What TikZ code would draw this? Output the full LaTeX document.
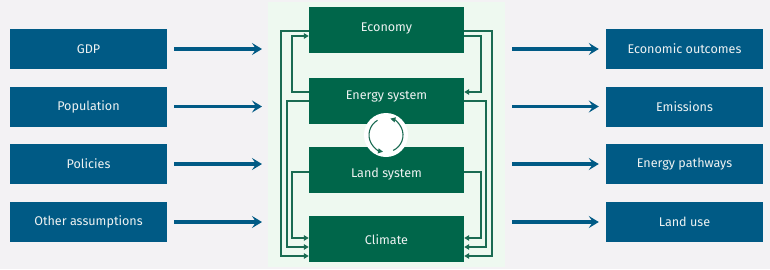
\documentclass[tikz,border=0pt]{standalone}
\usepackage{fontspec}
\setmainfont{Fira Sans}
\usetikzlibrary{arrows.meta}
\definecolor{bgc}{HTML}{F3F2F4}
\definecolor{panelc}{HTML}{EEF9F0}
\definecolor{gbox}{HTML}{00664A}
\definecolor{gline}{HTML}{1A6B52}
\definecolor{bbox}{HTML}{005A85}
\definecolor{txtc}{HTML}{EEF2F2}
\tikzset{
  gnode/.style={fill=gbox, draw=none, minimum width=155pt, minimum height=46pt, inner sep=0pt},
  gtext/.style={text=txtc, font=\fontsize{12.6}{14}\selectfont},
  bnode/.style={fill=bbox, draw=none, minimum width=157pt, minimum height=40pt, inner sep=0pt, text=txtc, font=\fontsize{12.6}{14}\selectfont},
  conn/.style={draw=gline, line width=1.4pt, -{Triangle[length=5pt,width=5.5pt]}},
  bigarrow/.style={draw=bbox, line width=3.3pt, -{Stealth[length=10pt,width=12pt,inset=4pt]}},
  cyc/.style={draw=gline, line width=1.1pt, -{Triangle[length=5pt,width=5pt]}},
}
\begin{document}
\begin{tikzpicture}[x=1pt,y=-1pt]
\fill[bgc] (0,0) rectangle (770,269);
\useasboundingbox (0,0) rectangle (770,269);
\fill[panelc] (268,2) rectangle (505,267);

% green boxes
\node[gnode] (eco) at (386.5,30) {};
\node[gnode] (ene) at (386.5,101) {};
\node[gnode] (land) at (386.5,170) {};
\node[gnode] (clim) at (386.5,239) {};
\node[gtext] (ecot) at (386.5,28) {Economy};
\node[gtext] (enet) at (386.5,96) {Energy system};
\node[gtext] (landt) at (386.5,174) {Land system};
\node[gtext] (climt) at (386.5,240) {Climate};

% cycle circle
\fill[white] (386,135) circle (22);
\coordinate (cc) at (386,135);
\draw[cyc] ([shift={(240:17)}]cc) arc[start angle=240, end angle=100, radius=17];
\draw[cyc] ([shift={(65:17)}]cc) arc[start angle=65, end angle=-75, radius=17];

% left connectors
\draw[conn] (eco.west |- 0,31) -- (281,31) |- (clim.west |- 0,256);
\draw[conn] (ene.west |- 0,92) -- (292,92) |- (eco.west |- 0,36);
\draw[conn] (ene.west |- 0,101) -- (287,101) |- (clim.west |- 0,247);
\draw[conn] (land.west |- 0,172) -- (292,172) |- (clim.west |- 0,238);
% right connectors
\draw[conn] (eco.east |- 0,31) -- (492,31) |- (clim.east |- 0,256);
\draw[conn] (eco.east |- 0,36) -- (481,36) |- (ene.east |- 0,92);
\draw[conn] (ene.east |- 0,101) -- (486,101) |- (clim.east |- 0,247);
\draw[conn] (land.east |- 0,172) -- (481,172) |- (clim.east |- 0,238);

% blue boxes left
\node[bnode] (gdp) at (88.5,49) {GDP};
\node[bnode] (pop) at (88.5,106.5) {Population};
\node[bnode] (pol) at (88.5,164) {Policies};
\node[bnode] (oth) at (88.5,222) {Other assumptions};
% blue boxes right
\node[bnode] (eout) at (684.5,49) {Economic outcomes};
\node[bnode] (emi) at (684.5,106.5) {Emissions};
\node[bnode] (epath) at (684.5,164) {Energy pathways};
\node[bnode] (luse) at (684.5,222) {Land use};

% big arrows
\coordinate (l1) at (262,49); \coordinate (l2) at (262,106.5);
\coordinate (l3) at (262,164); \coordinate (l4) at (262,222);
\coordinate (r1) at (512,49); \coordinate (r2) at (512,106.5);
\coordinate (r3) at (512,164); \coordinate (r4) at (512,222);
\draw[bigarrow] ([xshift=7pt]gdp.east) -- (l1);
\draw[bigarrow] ([xshift=7pt]pop.east) -- (l2);
\draw[bigarrow] ([xshift=7pt]pol.east) -- (l3);
\draw[bigarrow] ([xshift=7pt]oth.east) -- (l4);
\draw[bigarrow] (r1) -- ([xshift=-7pt]eout.west);
\draw[bigarrow] (r2) -- ([xshift=-7pt]emi.west);
\draw[bigarrow] (r3) -- ([xshift=-7pt]epath.west);
\draw[bigarrow] (r4) -- ([xshift=-7pt]luse.west);
\end{tikzpicture}
\end{document}
